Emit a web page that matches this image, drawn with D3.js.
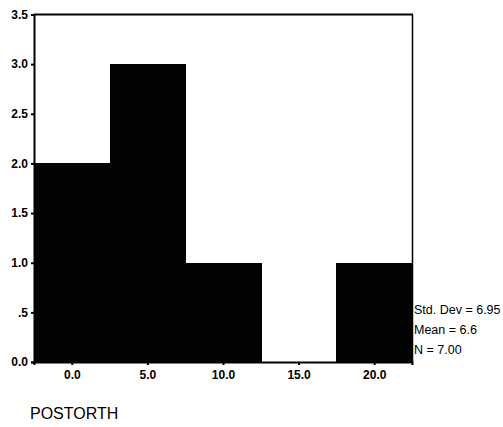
<!DOCTYPE html>
<html>
<head>
<meta charset="utf-8">
<script src="https://cdn.jsdelivr.net/npm/d3@7"></script>
<style>
html,body{margin:0;padding:0;background:#fff;}
svg{display:block;}
</style>
</head>
<body>
<svg id="chart" width="503" height="427"></svg>
<script>
const binCenters = [0, 5, 10, 15, 20];
const binWidth = 5;
const counts = [2, 3, 1, 0, 1];
const yTicks = [0, 0.5, 1, 1.5, 2, 2.5, 3, 3.5];
const yTickLabels = ["0.0", ".5", "1.0", "1.5", "2.0", "2.5", "3.0", "3.5"];
const xTicks = [0, 5, 10, 15, 20];
const xTickLabels = ["0.0", "5.0", "10.0", "15.0", "20.0"];
const stats = ["Std. Dev = 6.95", "Mean = 6.6", "N = 7.00"];
const varName = "POSTORTH";

const svg = d3.select("#chart");
const x = d3.scaleLinear().domain([-2.5, 22.5]).range([34, 412]);
const y = d3.scaleLinear().domain([0, 3.5]).range([362, 14.5]);

// bars
svg.append("g").attr("shape-rendering", "crispEdges").selectAll("rect")
  .data(binCenters.map((c, i) => ({c, v: counts[i]})))
  .enter().append("rect")
  .attr("x", d => Math.round(x(d.c - binWidth / 2)))
  .attr("width", d => Math.round(x(d.c + binWidth / 2)) - Math.round(x(d.c - binWidth / 2)) + 0.5)
  .attr("y", d => y(d.v))
  .attr("height", d => y(0) - y(d.v))
  .attr("fill", "#030303");

// frame top and right
svg.append("line").attr("x1", x(-2.5)).attr("x2", x(22.5) + 1).attr("y1", y(3.5)).attr("y2", y(3.5))
  .attr("stroke", "#000").attr("stroke-width", 2);
svg.append("line").attr("x1", x(22.5) + 0.5).attr("x2", x(22.5) + 0.5).attr("y1", y(3.5)).attr("y2", y(0))
  .attr("stroke", "#000").attr("stroke-width", 1.5);

// y axis
const yAxis = d3.axisLeft(y).tickValues(yTicks).tickSize(3).tickPadding(3)
  .tickFormat((d, i) => yTickLabels[i]);
const gy = svg.append("g").attr("transform", `translate(${x(-2.5)},0)`).call(yAxis);
gy.select(".domain").attr("stroke-width", 2);
gy.selectAll(".tick line").attr("stroke-width", 2);
gy.selectAll("text").attr("font-family", "Arial, 'Liberation Sans', sans-serif")
  .attr("font-size", 12).attr("font-weight", "bold").attr("fill", "#000");

// x axis
const xAxis = d3.axisBottom(x).tickValues(xTicks).tickSize(3).tickPadding(5)
  .tickFormat((d, i) => xTickLabels[i]);
const gx = svg.append("g").attr("transform", `translate(0,${y(0)})`).call(xAxis);
gx.select(".domain").attr("stroke-width", 2);
gx.selectAll(".tick line").attr("stroke-width", 2);
gx.selectAll("text").attr("font-family", "Arial, 'Liberation Sans', sans-serif")
  .attr("font-size", 12).attr("font-weight", "bold").attr("fill", "#000");

// stats
svg.append("g").selectAll("text").data(stats).enter().append("text")
  .attr("x", 414).attr("y", (d, i) => 314 + i * 20)
  .attr("font-family", "Arial, 'Liberation Sans', sans-serif")
  .attr("font-size", 12.5).attr("fill", "#000")
  .text(d => d);

// variable name
svg.append("text").attr("x", 30).attr("y", 419)
  .attr("font-family", "Arial, 'Liberation Sans', sans-serif")
  .attr("font-size", 16).attr("fill", "#000").text(varName);
</script>
</body>
</html>
